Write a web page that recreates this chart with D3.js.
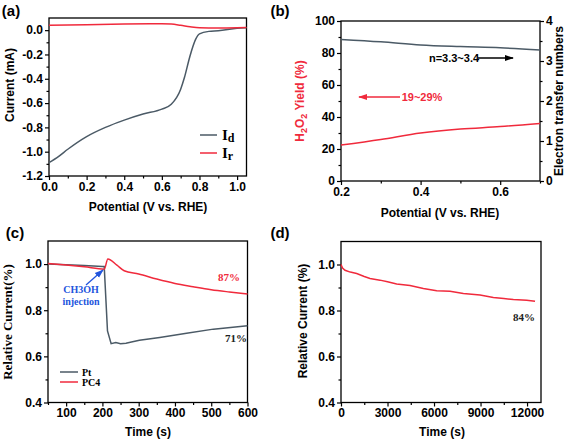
<!DOCTYPE html>
<html><head><meta charset="utf-8">
<script src="https://cdn.jsdelivr.net/npm/d3@7"></script>
<style>body{margin:0;background:#fff}svg{display:block}</style>
</head><body>
<svg id="c" width="567" height="441"></svg>
<script>
// ---------- data ----------
// (a) LSV
const aPotId = [0, 0.05, 0.1, 0.2, 0.3, 0.4, 0.5, 0.6, 0.65, 0.7, 0.72, 0.75, 0.78, 0.8, 0.85, 0.9, 1.0, 1.05];
const aId    = [-1.09, -1.04, -0.98, -0.876, -0.80, -0.74, -0.69, -0.65, -0.61, -0.486, -0.39, -0.21, -0.074, -0.03, -0.01, -0.005, 0.015, 0.02];
const aPotIr = [0, 0.2, 0.4, 0.6, 0.65, 0.7, 0.75, 0.8, 0.9, 1.0, 1.05];
const aIr    = [0.04, 0.045, 0.05, 0.052, 0.05, 0.04, 0.028, 0.02, 0.018, 0.02, 0.022];
// (b) RRDE
const bPot   = [0.2, 0.3, 0.4, 0.5, 0.6, 0.7];
const bYield = [22.5, 26, 30, 32.5, 34, 36];
const bN     = [3.54, 3.48, 3.4, 3.36, 3.33, 3.275];
// (c) methanol tolerance
const cTimePt = [50, 100, 150, 200, 205, 214, 224, 237, 250, 265, 280, 302, 358, 432, 506, 600];
const cPt     = [1.0, 0.997, 0.994, 0.99, 0.99, 0.71, 0.655, 0.66, 0.655, 0.657, 0.662, 0.67, 0.682, 0.70, 0.718, 0.733];
const cTimePC = [50, 100, 150, 205, 215, 240, 260, 300, 350, 400, 450, 500, 550, 600];
const cPC4    = [1.003, 0.996, 0.988, 0.978, 1.022, 0.995, 0.971, 0.957, 0.935, 0.916, 0.902, 0.889, 0.879, 0.870];
// (d) stability
const dTime = [0, 100, 258, 600, 1011, 1500, 1871, 2516, 3000, 3591, 4452, 5312, 6172, 7032, 7892, 8968, 9828, 10500, 11118, 11978, 12516];
const dCur  = [1.0, 0.985, 0.975, 0.967, 0.961, 0.948, 0.939, 0.932, 0.925, 0.915, 0.909, 0.896, 0.886, 0.884, 0.874, 0.867, 0.857, 0.852, 0.848, 0.845, 0.84];
// tick labels
const aXTicks = [0, 0.2, 0.4, 0.6, 0.8, 1.0];
const aYTicks = [0, -0.2, -0.4, -0.6, -0.8, -1.0, -1.2];
const bXTicks = [0.2, 0.4, 0.6];
const bYTicks = [0, 20, 40, 60, 80, 100];
const bY2Ticks = [0, 1, 2, 3, 4];
const cXTicks = [100, 200, 300, 400, 500, 600];
const cYTicks = [0.4, 0.6, 0.8, 1.0];
const dXTicks = [0, 3000, 6000, 9000, 12000];
const dYTicks = [0.4, 0.6, 0.8, 1.0];

const GRAY = "#4b5a66", RED = "#f02a3c";
const SANS = "'Liberation Sans', Arial, sans-serif";
const SERIF = "'Liberation Serif', 'Times New Roman', serif";
const svg = d3.select("#c");
svg.append("rect").attr("width",567).attr("height",441).attr("fill","#fff");

function range(a,b,s){const r=[];for(let v=a;v<=b+1e-9;v+=s)r.push(+v.toFixed(6));return r;}

function panel(o){
  const g = svg.append("g");
  const x = d3.scaleLinear().domain(o.xd).range([o.l, o.r]);
  const y = d3.scaleLinear().domain(o.yd).range([o.b, o.t]);
  const mk = (ax, vals, size, fmt) => ax.tickValues(vals).tickSize(size).tickPadding(2).tickFormat(fmt);
  const style = sel => { sel.select(".domain").remove(); sel.selectAll("line").attr("stroke","#000").attr("stroke-width",1.2);
    sel.selectAll("text").attr("font-family",SANS).attr("font-weight","bold").attr("font-size",12).attr("fill","#000"); };
  g.append("g").attr("transform",`translate(0,${o.b})`).call(mk(d3.axisBottom(x), o.xminor, 2.5, "")).call(style);
  g.append("g").attr("transform",`translate(0,${o.b})`).call(mk(d3.axisBottom(x), o.xt, 4, o.xf)).call(style);
  g.append("g").attr("transform",`translate(${o.l},0)`).call(mk(d3.axisLeft(y), o.yminor, 2.5, "")).call(style);
  g.append("g").attr("transform",`translate(${o.l},0)`).call(mk(d3.axisLeft(y), o.yt, 4, o.yf)).call(style);
  g.append("rect").attr("x",o.l).attr("y",o.t).attr("width",o.r-o.l).attr("height",o.b-o.t)
    .attr("fill","none").attr("stroke","#000").attr("stroke-width",1.3);
  return {g,x,y};
}
function line(g, xs, ys, x, y, color, curve, w){
  g.append("path").datum(xs.map((d,i)=>[d, ys[i]]))
    .attr("d", d3.line().x(d=>x(d[0])).y(d=>y(d[1])).curve(curve||d3.curveLinear))
    .attr("fill","none").attr("stroke",color).attr("stroke-width",w||1.5);
}
function label(txt, x, y, opts){
  const t = svg.append("text").attr("x",x).attr("y",y).text(txt)
    .attr("font-family",(opts&&opts.ff)||SANS).attr("font-weight","bold")
    .attr("font-size",(opts&&opts.fs)||12).attr("fill",(opts&&opts.fill)||"#000")
    .attr("text-anchor",(opts&&opts.anchor)||"middle");
  if(opts&&opts.rot) t.attr("transform",`rotate(${opts.rot},${x},${y})`);
  return t;
}
function arrowDef(id,color){
  svg.append("defs").append("marker").attr("id",id).attr("viewBox","0 0 10 10").attr("refX",9).attr("refY",5)
    .attr("markerWidth",7).attr("markerHeight",7).attr("orient","auto")
    .append("path").attr("d","M0,1.5 L10,5 L0,8.5 Z").attr("fill",color);
}
arrowDef("arK","#000"); arrowDef("arR",RED); arrowDef("arB","#2255dd");

// ---------- (a) ----------
{
  const p = panel({l:49,r:246.5,t:18,b:176,xd:[0,1.05],yd:[-1.2,0.1],xt:aXTicks,yt:aYTicks,
    xminor:range(0.1,1.0,0.2),yminor:range(-1.1,-0.1,0.2),xf:d=>d.toFixed(1),yf:d=>d.toFixed(1)});
  line(p.g, aPotId, aId, p.x, p.y, GRAY, d3.curveMonotoneX, 1.5);
  line(p.g, aPotIr, aIr, p.x, p.y, RED, d3.curveMonotoneX, 1.5);
  p.g.append("line").attr("x1",200).attr("x2",217).attr("y1",135).attr("y2",135).attr("stroke",GRAY).attr("stroke-width",1.5);
  p.g.append("line").attr("x1",200).attr("x2",217).attr("y1",153).attr("y2",153).attr("stroke",RED).attr("stroke-width",1.5);
  const t1 = label("I", 222, 140, {ff:SERIF, fs:15, anchor:"start"}); t1.append("tspan").attr("dy",2).attr("font-size",12).text("d");
  const t2 = label("I", 222, 158, {ff:SERIF, fs:15, anchor:"start"}); t2.append("tspan").attr("dy",2).attr("font-size",12).text("r");
  label("Current (mA)", 14, 85, {rot:-90});
  label("Potential (V vs. RHE)", 148, 211);
  label("(a)", 11, 16, {fs:15});
}
// ---------- (b) ----------
{
  const p = panel({l:341,r:540,t:21,b:181,xd:[0.2,0.7],yd:[0,100],xt:bXTicks,yt:bYTicks,
    xminor:[0.3,0.5,0.7],yminor:range(10,90,20),xf:d=>d.toFixed(1),yf:d=>d});
  const y2 = d3.scaleLinear().domain([0,4]).range([181,21]);
  const st = sel => { sel.select(".domain").remove(); sel.selectAll("line").attr("stroke","#000").attr("stroke-width",1.2);
    sel.selectAll("text").attr("font-family",SANS).attr("font-weight","bold").attr("font-size",12).attr("fill","#000"); };
  p.g.append("g").attr("transform","translate(540,0)").call(d3.axisRight(y2).tickValues(range(0.5,3.5,1)).tickSize(2.5).tickFormat("")).call(st);
  p.g.append("g").attr("transform","translate(540,0)").call(d3.axisRight(y2).tickValues(bY2Ticks).tickSize(4).tickPadding(2).tickFormat(d=>d)).call(st);
  line(p.g, bPot, bN, p.x, y2, GRAY, d3.curveMonotoneX, 1.5);
  line(p.g, bPot, bYield, p.x, p.y, RED, d3.curveMonotoneX, 1.5);
  label("n=3.3~3.4", 454, 62, {fs:11});
  p.g.append("line").attr("x1",478).attr("x2",513).attr("y1",58).attr("y2",58).attr("stroke","#000").attr("stroke-width",1.3).attr("marker-end","url(#arK)");
  label("19~29%", 422, 101, {fs:11, fill:RED});
  p.g.append("line").attr("x1",400).attr("x2",359).attr("y1",97).attr("y2",97).attr("stroke",RED).attr("stroke-width",1.3).attr("marker-end","url(#arR)");
  const yl = label("H", 304, 101, {rot:-90, fill:RED});
  yl.append("tspan").attr("dy",3).attr("font-size",9).text("2");
  yl.append("tspan").attr("dy",-3).text("O");
  yl.append("tspan").attr("dy",3).attr("font-size",9).text("2");
  yl.append("tspan").attr("dy",-3).text(" Yield (%)");
  label("Electron transfer numbers", 563, 101, {rot:-90});
  label("Potential (V vs. RHE)", 440, 217);
  label("(b)", 280, 16, {fs:15});
}
// ---------- (c) ----------
{
  const p = panel({l:48,r:247.5,t:241,b:402.5,xd:[50,600],yd:[0.4,1.1],xt:cXTicks,yt:cYTicks,
    xminor:range(50,550,100),yminor:[0.5,0.7,0.9],xf:d=>d,yf:d=>d.toFixed(1)});
  line(p.g, cTimePt, cPt, p.x, p.y, GRAY, d3.curveLinear, 1.5);
  line(p.g, cTimePC, cPC4, p.x, p.y, RED, d3.curveMonotoneX, 1.5);
  p.g.append("line").attr("x1",86).attr("x2",103).attr("y1",285).attr("y2",270).attr("stroke","#2255dd").attr("stroke-width",1.3).attr("marker-end","url(#arB)");
  label("CH3OH", 81, 293, {ff:SERIF, fs:10, fill:"#2255dd"});
  label("injection", 81, 305, {ff:SERIF, fs:10, fill:"#2255dd"});
  label("87%", 229, 281, {ff:SERIF, fs:11, fill:RED});
  label("71%", 236, 342, {ff:SERIF, fs:11, fill:"#222"});
  p.g.append("line").attr("x1",60).attr("x2",78).attr("y1",372).attr("y2",372).attr("stroke",GRAY).attr("stroke-width",1.5);
  p.g.append("line").attr("x1",60).attr("x2",78).attr("y1",382).attr("y2",382).attr("stroke",RED).attr("stroke-width",1.5);
  label("Pt", 82, 375.5, {ff:SERIF, fs:10, anchor:"start"});
  label("PC4", 82, 385.5, {ff:SERIF, fs:10, anchor:"start"});
  label("Relative Current(%)", 12, 322, {ff:SERIF, fs:13, rot:-90});
  label("Time (s)", 148, 436);
  label("(c)", 15, 238, {fs:15});
}
// ---------- (d) ----------
{
  const p = panel({l:341,r:541,t:241.5,b:402.5,xd:[0,12900],yd:[0.4,1.1],xt:dXTicks,yt:dYTicks,
    xminor:range(1500,10500,3000),yminor:[0.5,0.7,0.9],xf:d=>d,yf:d=>d.toFixed(1)});
  line(p.g, dTime, dCur, p.x, p.y, RED, d3.curveLinear, 1.5);
  label("84%", 524, 321, {ff:SERIF, fs:11, fill:"#222"});
  label("Relative Current (%)", 307, 321, {rot:-90});
  label("Time (s)", 442, 436);
  label("(d)", 280, 238, {fs:15});
}
</script>
</body></html>
